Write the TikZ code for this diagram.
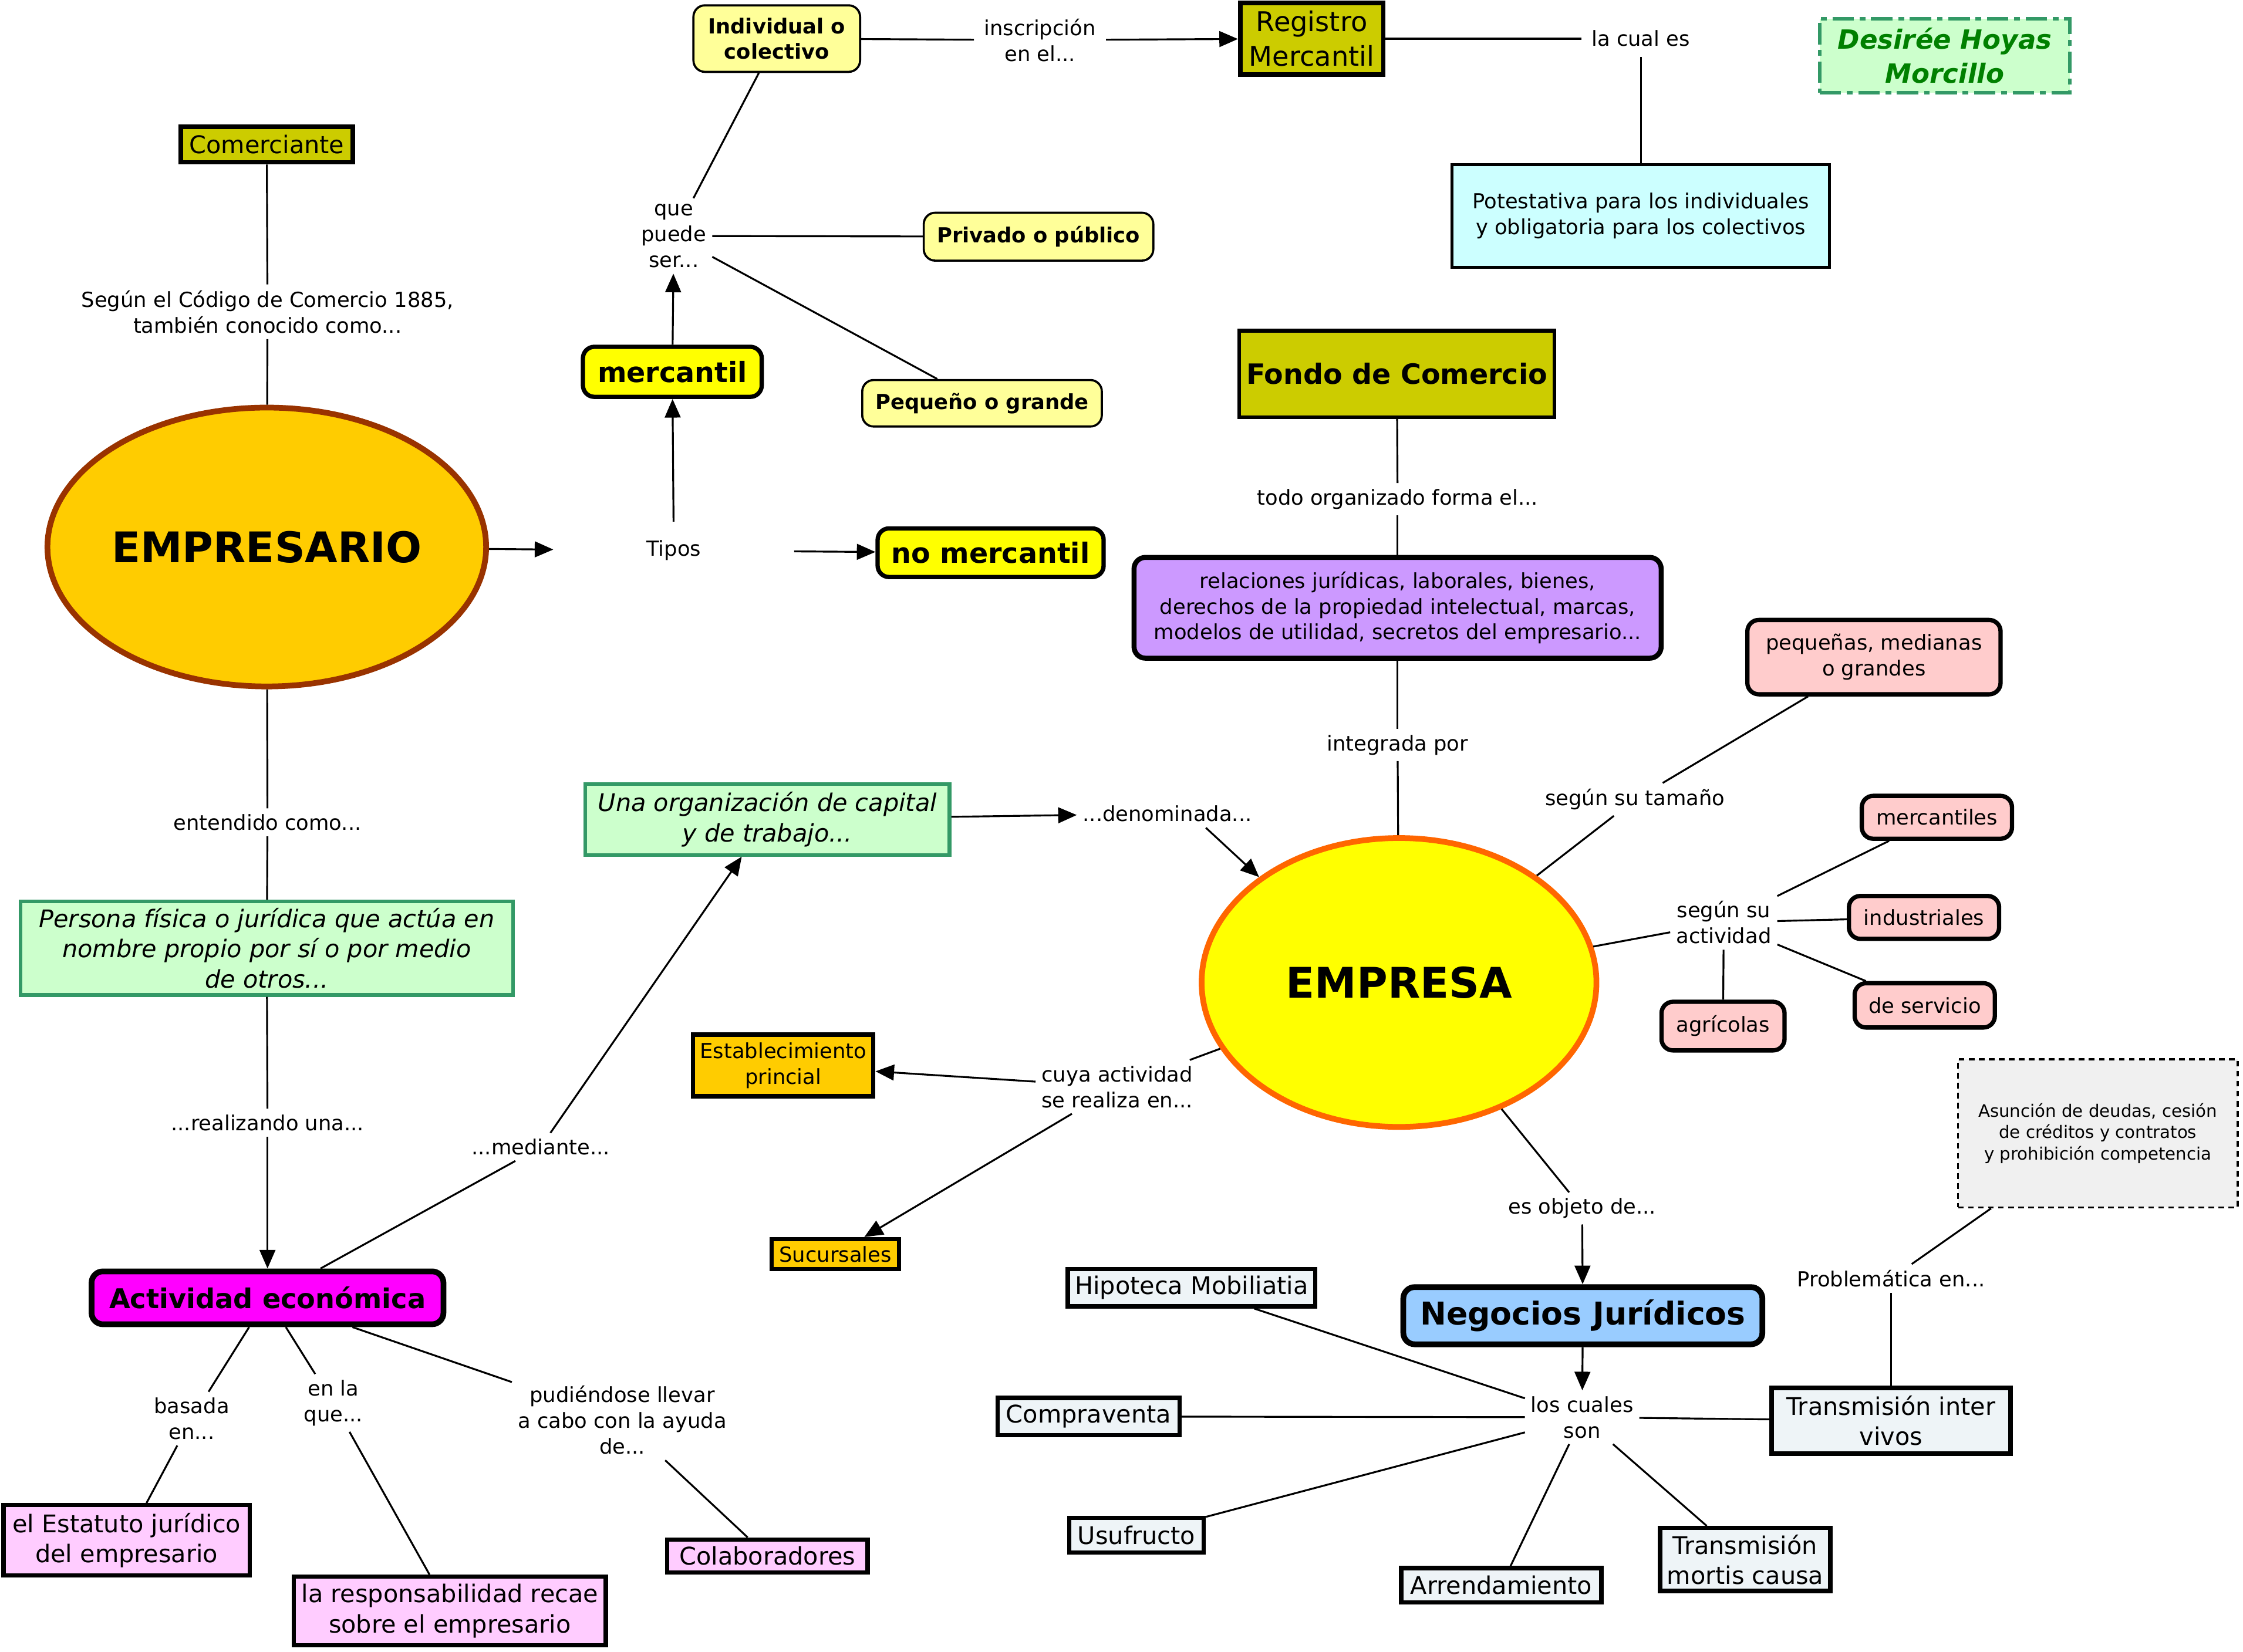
\documentclass[tikz,border=0pt]{standalone}
\usepackage{fontspec}
\setmainfont{DejaVu Sans}
\usetikzlibrary{arrows.meta,shapes.geometric}
\definecolor{cOlive}{HTML}{CCCC00}
\definecolor{cGold}{HTML}{FFCC00}
\definecolor{cBrown}{HTML}{993300}
\definecolor{cYellow}{HTML}{FFFF00}
\definecolor{cLightYellow}{HTML}{FFFF99}
\definecolor{cCyan}{HTML}{CCFFFF}
\definecolor{cMint}{HTML}{CCFFCC}
\definecolor{cGreenB}{HTML}{339966}
\definecolor{cGreenT}{HTML}{008000}
\definecolor{cPurple}{HTML}{CC99FF}
\definecolor{cPink}{HTML}{FFCCCC}
\definecolor{cOrange}{HTML}{FF6600}
\definecolor{cMagenta}{HTML}{FF00FF}
\definecolor{cLightMag}{HTML}{FFCCFF}
\definecolor{cLightBlue}{HTML}{99CCFF}
\definecolor{cPale}{HTML}{EEF4F7}
\definecolor{cLightGray}{HTML}{F0F0F0}
\begin{document}
\begin{tikzpicture}[x=1pt,y=-1pt,
  lbl/.style={font=\fontsize{14.5}{18}\selectfont, align=center, inner sep=4pt},
  conn/.style={line width=1.3pt},
  arr/.style={line width=1.3pt,-{Triangle[length=13pt,width=11pt]}},
  cbox/.style={draw, align=center, inner sep=1pt},
  f145/.style={font=\fontsize{14.5}{18}\selectfont},
  f17/.style={font=\fontsize{17}{21}\selectfont},
  yelbox/.style={cbox, fill=cYellow, line width=3pt, rounded corners=8pt, font=\bfseries\fontsize{19.5}{24}\selectfont},
  lybox/.style={cbox, fill=cLightYellow, line width=1.5pt, rounded corners=8pt, font=\bfseries\fontsize{14.5}{18}\selectfont},
  pinkbox/.style={cbox, fill=cPink, line width=3pt, rounded corners=8pt, f145},
  mintbox/.style={cbox, fill=cMint, draw=cGreenB, line width=2.5pt, font=\itshape\fontsize{17}{21}\selectfont},
  magbox/.style={cbox, fill=cLightMag, line width=3pt, f17},
  palebox/.style={cbox, fill=cPale, line width=3pt, f17},
  goldbox/.style={cbox, fill=cGold, line width=3pt, f145}
]
\fill[white] (0,0) rectangle (1568,1155);
\useasboundingbox (0,0) rectangle (1568,1155);

% ---------- concepts ----------
\node[cbox, fill=cOlive, line width=3.2pt, minimum width=120pt, minimum height=25pt, f17] (comerciante) at (186.5,101) {Comerciante};
\node[ellipse, draw=cBrown, line width=4pt, fill=cGold, minimum width=303pt, minimum height=195pt, inner sep=0pt, font=\bfseries\fontsize{29.5}{34}\selectfont] (empresario) at (186.5,382.5) {EMPRESARIO};
\node[yelbox, minimum width=125pt, minimum height=35pt] (mercantil) at (470,260) {mercantil};
\node[yelbox, minimum width=158pt, minimum height=34pt] (nomercantil) at (692.5,386.5) {no mercantil};
\node[lybox, minimum width=116.5pt, minimum height=46.5pt] (individual) at (543,27) {Individual o\\colectivo};
\node[lybox, minimum width=160.5pt, minimum height=33.5pt] (privado) at (726,165.5) {Privado o público};
\node[lybox, minimum width=167.5pt, minimum height=32.5pt] (pequeno) at (686.5,282) {Pequeño o grande};
\node[cbox, fill=cOlive, line width=3.2pt, minimum width=100pt, minimum height=50pt, font=\fontsize{19}{24}\selectfont] (registro) at (917,27) {Registro\\Mercantil};
\node[cbox, fill=cCyan, line width=2pt, minimum width=264pt, minimum height=72pt, f145] (potestativa) at (1147,151) {Potestativa para los individuales\\y obligatoria para los colectivos};
\node[cbox, fill=cMint, draw=cGreenB, line width=2.5pt, dash pattern=on 15pt off 4pt on 4pt off 4pt, minimum width=175pt, minimum height=52pt, text=cGreenT, font=\bfseries\itshape\fontsize{18.5}{24}\selectfont] (desiree) at (1359.5,39) {Desirée Hoyas\\Morcillo};
\node[cbox, fill=cOlive, line width=2.5pt, minimum width=220.5pt, minimum height=60.5pt, font=\bfseries\fontsize{19.5}{24}\selectfont] (fondo) at (976.5,261.5) {Fondo de Comercio};
\node[cbox, fill=cPurple, line width=3.5pt, rounded corners=8pt, minimum width=368.5pt, minimum height=70.5pt, font=\fontsize{14.5}{18}\selectfont] (relaciones) at (977,425) {relaciones jurídicas, laborales, bienes,\\derechos de la propiedad intelectual, marcas,\\modelos de utilidad, secretos del empresario...};
\node[pinkbox, minimum width=177pt, minimum height=52pt] (pequenas) at (1310,459.5) {pequeñas, medianas\\o grandes};
\node[pinkbox, minimum width=105pt, minimum height=30pt] (mercantiles) at (1354,571.5) {mercantiles};
\node[pinkbox, minimum width=105pt, minimum height=30pt] (industriales) at (1345,641.5) {industriales};
\node[pinkbox, minimum width=98pt, minimum height=31pt] (deservicio) at (1345.5,703) {de servicio};
\node[pinkbox, minimum width=86pt, minimum height=34pt] (agricolas) at (1204.5,717.5) {agrícolas};
\node[ellipse, draw=cOrange, line width=4pt, fill=cYellow, minimum width=276pt, minimum height=202pt, inner sep=0pt, font=\bfseries\fontsize{29.5}{34}\selectfont] (empresa) at (978,687) {EMPRESA};
\node[mintbox, minimum width=254.5pt, minimum height=49.5pt] (organizacion) at (536.5,573) {Una organización de capital\\y de trabajo...};
\node[mintbox, minimum width=344.5pt, minimum height=65.5pt] (persona) at (186.5,663) {Persona física o jurídica que actúa en\\nombre propio por sí o por medio\\de otros...};
\node[cbox, fill=cMagenta, line width=4pt, rounded corners=8pt, minimum width=246pt, minimum height=37pt, font=\bfseries\fontsize{19}{24}\selectfont] (actividad) at (187,907.5) {Actividad económica};
\node[goldbox, minimum width=126pt, minimum height=43pt] (establecimiento) at (547.5,745) {Establecimiento\\princial};
\node[goldbox, minimum width=89pt, minimum height=21pt] (sucursales) at (584,877) {Sucursales};
\node[magbox, minimum width=172pt, minimum height=49pt] (estatuto) at (88.5,1077) {el Estatuto jurídico\\del empresario};
\node[magbox, minimum width=218pt, minimum height=48pt] (responsabilidad) at (314.5,1126.5) {la responsabilidad recae\\sobre el empresario};
\node[magbox, minimum width=140pt, minimum height=23pt] (colaboradores) at (536.5,1088) {Colaboradores};
\node[cbox, fill=cLightBlue, line width=4pt, rounded corners=8pt, minimum width=251pt, minimum height=40pt, font=\bfseries\fontsize{22}{26}\selectfont] (negocios) at (1106.5,920) {Negocios Jurídicos};
\node[palebox, minimum width=173pt, minimum height=26pt] (hipoteca) at (833,900.5) {Hipoteca Mobiliatia};
\node[palebox, minimum width=127pt, minimum height=26pt] (compraventa) at (761,990.5) {Compraventa};
\node[palebox, minimum width=94pt, minimum height=24pt] (usufructo) at (794.5,1073.5) {Usufructo};
\node[palebox, minimum width=140pt, minimum height=24pt] (arrendamiento) at (1049.5,1108.5) {Arrendamiento};
\node[palebox, minimum width=119pt, minimum height=44pt] (mortis) at (1220,1090.5) {Transmisión\\mortis causa};
\node[palebox, minimum width=167pt, minimum height=46pt] (inter) at (1322,993.5) {Transmisión inter\\vivos};
\node[cbox, fill=cLightGray, line width=1.5pt, dash pattern=on 4pt off 3pt, minimum width=195.5pt, minimum height=103.5pt, font=\fontsize{12}{15}\selectfont] (asuncion) at (1466.5,792.5) {Asunción de deudas, cesión\\de créditos y contratos\\y prohibición competencia};

% ---------- linking phrases ----------
\node[lbl] (segun) at (187,218) {Según el Código de Comercio 1885,\\también conocido como...};
\node[lbl, minimum width=168pt, minimum height=40pt, inner sep=0pt] (tipos) at (471,385) {Tipos};
\node[lbl] (quepuede) at (471,165) {que\\puede\\ser...};
\node[lbl, inner sep=7pt] (inscripcion) at (727,28) {inscripción\\en el...};
\node[lbl, inner sep=7pt] (lacual) at (1147,27) {la cual es};
\node[lbl] (todoorg) at (977,349) {todo organizado forma el...};
\node[lbl] (integrada) at (977,521) {integrada por};
\node[lbl] (tamano) at (1143,559) {según su tamaño};
\node[lbl] (actlbl) at (1205,645) {según su\\actividad};
\node[lbl] (denominada) at (816,569) {...denominada...};
\node[lbl] (entendido) at (187,575) {entendido como...};
\node[lbl] (realizando) at (187,785) {...realizando una...};
\node[lbl] (mediante) at (378,802) {...mediante...};
\node[lbl] (cuya) at (781,760) {cuya actividad\\se realiza en...};
\node[lbl] (esobjeto) at (1106,845) {es objeto de...};
\node[lbl] (loscuales) at (1106,991) {los cuales\\son};
\node[lbl] (problematica) at (1322,894) {Problemática en...};
\node[lbl] (basada) at (134,992) {basada\\en...};
\node[lbl] (enlaque) at (233,981) {en la\\que...};
\node[lbl] (pudiendose) at (435,993) {pudiéndose llevar\\a cabo con la ayuda\\de...};

% ---------- connectors ----------
\draw[conn] (comerciante) -- (segun);
\draw[conn] (segun) -- (empresario);
\draw[arr] (empresario) -- (tipos);
\draw[arr] (tipos) -- (mercantil);
\draw[arr] (tipos) -- (nomercantil);
\draw[arr] (mercantil) -- (quepuede);
\draw[conn] (quepuede) -- (individual);
\draw[conn] (quepuede) -- (privado);
\draw[conn] (quepuede) -- (pequeno);
\draw[conn] (individual) -- (inscripcion);
\draw[arr] (inscripcion) -- (registro);
\draw[conn, line width=1.8pt] (registro) -- (lacual);
\draw[conn] (lacual) -- (potestativa);
\draw[conn] (fondo) -- (todoorg);
\draw[conn] (todoorg) -- (relaciones);
\draw[conn] (relaciones) -- (integrada);
\draw[conn] (integrada) -- (empresa);
\draw[conn] (empresa) -- (tamano);
\draw[conn] (tamano) -- (pequenas);
\draw[conn] (empresa) -- (actlbl);
\draw[conn] (actlbl) -- (mercantiles);
\draw[conn] (actlbl) -- (industriales);
\draw[conn] (actlbl) -- (deservicio);
\draw[conn] (actlbl) -- (agricolas);
\draw[conn] (empresario) -- (entendido);
\draw[conn] (entendido) -- (persona);
\draw[conn] (persona) -- (realizando);
\draw[arr] (realizando) -- (actividad);
\draw[conn] (actividad) -- (mediante);
\draw[arr] (mediante) -- (organizacion);
\draw[arr] (organizacion) -- (denominada);
\draw[arr] (denominada.-20) -- (empresa.143);
\draw[conn] (empresa) -- (cuya);
\draw[arr] (cuya) -- (establecimiento);
\draw[arr] (cuya) -- (sucursales);
\draw[conn] (empresa) -- (esobjeto);
\draw[arr] (esobjeto) -- (negocios);
\draw[arr] (negocios) -- (loscuales);
\draw[conn] (loscuales) -- (hipoteca);
\draw[conn] (loscuales) -- (compraventa);
\draw[conn] (loscuales) -- (usufructo);
\draw[conn] (loscuales) -- (arrendamiento);
\draw[conn] (loscuales) -- (mortis);
\draw[conn] (loscuales) -- (inter);
\draw[conn] (inter) -- (problematica);
\draw[conn] (problematica) -- (asuncion);
\draw[conn] (actividad) -- (basada);
\draw[conn] (basada) -- (estatuto);
\draw[conn] (actividad) -- (enlaque);
\draw[conn] (enlaque) -- (responsabilidad);
\draw[conn] (actividad) -- (pudiendose);
\draw[conn] (pudiendose) -- (colaboradores);
\end{tikzpicture}
\end{document}
